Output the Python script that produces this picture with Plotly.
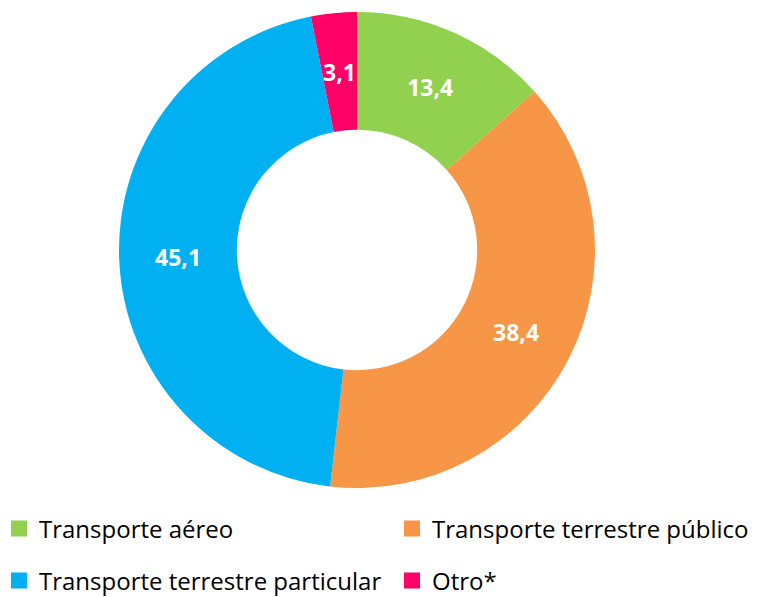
import math
import plotly.graph_objects as go

labels = ["Transporte aéreo", "Transporte terrestre público", "Transporte terrestre particular", "Otro*"]
values = [13.4, 38.4, 45.1, 3.1]
text_labels = ["13,4", "38,4", "45,1", "3,1"]
colors = ["#92D050", "#F79646", "#00B0F0", "#FF0066"]

# The page body has an 8px default margin, so the figure is sized to the visible area
OFF = 8
W, H = 760 - OFF, 597 - OFF
cx, cy, r = 357 - OFF, 250 - OFF, 238
HOLE = 0.505

label_font = dict(family="Open Sans", size=23, color="white", weight="bold")

# the thin last slice gets its label at mid-radius (as in the original) via an annotation
pie_text = text_labels[:-1] + [""]

fig = go.Figure(go.Pie(
    labels=labels,
    values=values,
    text=pie_text,
    textinfo="text",
    textposition="inside",
    insidetextorientation="horizontal",
    textfont=label_font,
    marker=dict(colors=colors, line=dict(width=0)),
    hole=HOLE,
    sort=False,
    direction="clockwise",
    rotation=0,
    showlegend=False,
    domain=dict(x=[(cx - r) / W, (cx + r) / W], y=[1 - (cy + r) / H, 1 - (cy - r) / H]),
))

# position of last slice label: mid-angle of slice, mid-radius of ring
total = sum(values)
start = sum(values[:-1]) / total
mid_frac = start + values[-1] / total / 2
ang = 2 * math.pi * mid_frac  # clockwise from 12 o'clock
rm = r * (1 + HOLE) / 2
ax_px = cx + rm * math.sin(ang)
ay_px = cy - rm * math.cos(ang)
fig.add_annotation(
    x=ax_px / W, y=1 - ay_px / H, xref="paper", yref="paper",
    text=text_labels[-1], showarrow=False, font=label_font,
    xanchor="center", yanchor="middle",
)

# legend entries: one small legend per slot (2 columns x 2 rows)
legend_ids = ["legend", "legend2", "legend3", "legend4"]
col_left = [-9, 384]
row_mid = [529 - OFF, 581 - OFF]
legend_x = [col_left[0] / W, col_left[1] / W, col_left[0] / W, col_left[1] / W]
legend_y = [1 - row_mid[0] / H, 1 - row_mid[0] / H, 1 - row_mid[1] / H, 1 - row_mid[1] / H]

for lab, col, lg in zip(labels, colors, legend_ids):
    fig.add_trace(go.Scatter(
        x=[None], y=[None], mode="markers", name=lab,
        marker=dict(symbol="square", size=16, color=col),
        legend=lg, showlegend=True, hoverinfo="skip",
    ))

legend_layout = {}
for lg, lx, ly in zip(legend_ids, legend_x, legend_y):
    legend_layout[lg] = dict(
        orientation="v",
        x=lx, xanchor="left", y=ly, yanchor="middle",
        font=dict(family="Open Sans", size=24, color="black"),
        bgcolor="rgba(0,0,0,0)",
    )

fig.update_layout(
    width=W, height=H,
    margin=dict(l=0, r=0, t=0, b=0, autoexpand=False),
    paper_bgcolor="white",
    plot_bgcolor="white",
    font=dict(family="Open Sans", color="black"),
    xaxis=dict(visible=False),
    yaxis=dict(visible=False),
    uniformtext=dict(minsize=10, mode="show"),
    **legend_layout,
)

fig.write_html("out.html")
